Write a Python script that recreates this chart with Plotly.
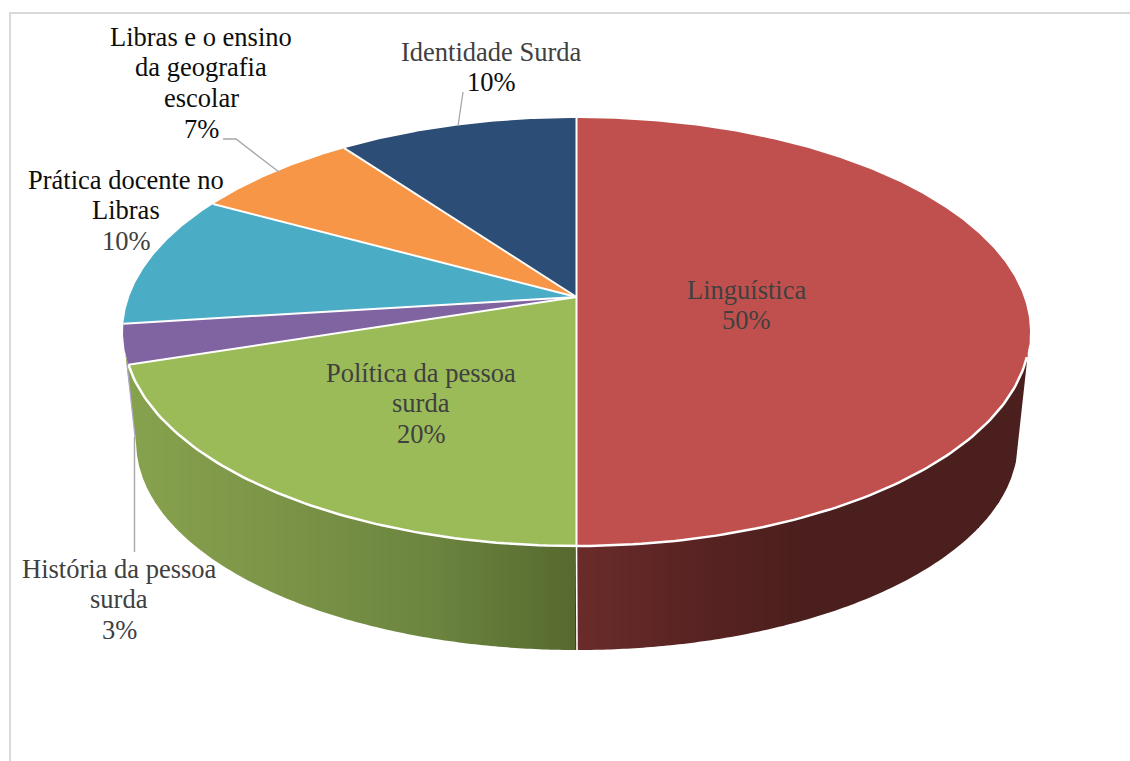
import numpy as np
import plotly.graph_objects as go

# Chart data
categories = ["Linguística", "Política da pessoa surda", "História da pessoa surda",
              "Prática docente no Libras", "Libras e o ensino da geografia escolar",
              "Identidade Surda"]
shares = [50, 20, 3, 10, 7, 10]
slice_colors = ["#C0504D", "#9BBB59", "#8064A2", "#4BACC6", "#F79646", "#2C4D75"]

# Wrapped category lines, label centre and text colours (one per line, percentage last)
label_lines = [
    ["Linguística"],
    ["Política da pessoa", "surda"],
    ["História da pessoa", "surda"],
    ["Prática docente no", "Libras"],
    ["Libras e o ensino", "da geografia", "escolar"],
    ["Identidade Surda"],
]
label_x = [746, 421, 119, 126, 201, 491]
label_top = [289.5, 372.5, 568.5, 179.5, 36.5, 51.5]
GREY_TEXT, DARK_TEXT = "#404040", "#0d0d0d"
label_colors = [
    [GREY_TEXT, GREY_TEXT],
    [GREY_TEXT, GREY_TEXT, GREY_TEXT],
    [GREY_TEXT, GREY_TEXT, GREY_TEXT],
    [DARK_TEXT, DARK_TEXT, GREY_TEXT],
    [DARK_TEXT, DARK_TEXT, DARK_TEXT, DARK_TEXT],
    [GREY_TEXT, DARK_TEXT],
]
LINE_STEP = 30.7

# Perspective disc: screen position of a rim point at angle t (clockwise from the top)
TILT = 0.1635


def rim(t, cx, cy, rx, ry):
    c, s = np.cos(t), np.sin(t)
    d = 1 + TILT * c
    return cx + rx * s / d, cy - ry * c / d


def top_rim(t):
    return rim(t, 576.5, 297.0, 447.4, 208.3)


def base_rim(t):
    return rim(t, 577.0, 407.8, 435.0, 202.6)


def blend(stops, x):
    xs = [p[0] for p in stops]
    rgb = [np.interp(x, xs, [p[1][i] for p in stops]) for i in range(3)]
    return "rgb(%d,%d,%d)" % tuple(int(round(v)) for v in rgb)


RED_WALL = [(576, (106, 44, 43)), (700, (88, 35, 34)), (800, (75, 31, 29)), (1030, (75, 31, 29))]
GREEN_WALL = [(130, (135, 162, 78)), (300, (122, 146, 70)), (430, (108, 133, 63)), (576, (86, 105, 47))]

fig = go.Figure()


def polygon(xs, ys, color):
    fig.add_trace(go.Scatter(
        x=xs, y=ys, mode="lines", fill="toself", fillcolor=color,
        line=dict(color=color, width=0), hoverinfo="skip", showlegend=False))


def polyline(xs, ys, color, width):
    fig.add_trace(go.Scatter(x=xs, y=ys, mode="lines", line=dict(color=color, width=width),
                             hoverinfo="skip", showlegend=False))


# Cumulative slice boundaries, in radians
edges = np.radians(np.cumsum([0] + shares) * 3.6)

# Outer wall: silhouette between the two rims, shaded in vertical pixel-aligned bands
wall_t = np.radians(np.linspace(100, 260, 400))
upper_x, upper_y = top_rim(wall_t)
lower_x, lower_y = base_rim(wall_t)
lower_x = np.r_[upper_x[0], lower_x, upper_x[-1]]
lower_y = np.r_[upper_y[0], lower_y, upper_y[-1]]
seam_x = top_rim(edges[1])[0]

band_edges = np.arange(int(upper_x[-1]), int(upper_x[0]) + 5, 4)
for x0, x1 in zip(band_edges[:-1], band_edges[1:]):
    xs = np.linspace(x0, min(x1, upper_x[0]), 5)
    up = np.interp(xs, upper_x[::-1], upper_y[::-1])
    low = np.interp(xs, lower_x[::-1], lower_y[::-1])
    mid = (x0 + x1) / 2
    col = blend(GREEN_WALL if mid < seam_x else RED_WALL, mid)
    polygon(np.r_[xs, xs[::-1], xs[0]], np.r_[up, low[::-1], up[0]], col)

# Wall seam at the boundary of the two front slices
sx0, sy0 = top_rim(edges[1])
sx1, sy1 = base_rim(edges[1])
polyline([sx0, sx1], [sy0, sy1], "white", 1.6)

# Top face
apex_x, apex_y = 576.5, 297.0
for i, color in enumerate(slice_colors):
    ts = np.linspace(edges[i], edges[i + 1], max(8, int(shares[i] * 8)))
    xs, ys = top_rim(ts)
    polygon(np.r_[apex_x, xs, apex_x], np.r_[apex_y, ys, apex_y], color)

# White front rim and spokes between slices
ts = np.linspace(np.radians(106), edges[2], 160)
xs, ys = top_rim(ts)
polyline(xs, ys, "white", 2.5)
for e in edges[:-1]:
    ex, ey = top_rim(e)
    polyline([apex_x, ex], [apex_y, ey], "white", 2.0)

# Leader lines
LEADER = "#a6a6a6"
polyline([223, 236, 279], [139, 139, 172], LEADER, 1.3)
polyline([463, 458], [92, 126], LEADER, 1.3)
polyline([127, 135], [364, 437], "#b3a6cf", 1.2)
polyline([134.5, 134.5], [437, 552], LEADER, 1.4)

# Chart frame, open on the right and running off the bottom
polyline([10, 10, 1130], [761, 13, 13], "#d9d9d9", 2)

annotations = []
for i, name_lines in enumerate(label_lines):
    lines = name_lines + [f"{shares[i]}%"]
    for j, text in enumerate(lines):
        annotations.append(dict(
            x=label_x[i], y=label_top[i] + j * LINE_STEP, text=text, showarrow=False,
            xanchor="center", yanchor="middle",
            font=dict(family="Liberation Serif", size=26.5, color=label_colors[i][j])))

fig.update_layout(
    width=1130, height=761, margin=dict(l=0, r=0, t=0, b=0),
    paper_bgcolor="white", plot_bgcolor="white", showlegend=False,
    xaxis=dict(range=[0, 1130], visible=False, fixedrange=True),
    yaxis=dict(range=[761, 0], visible=False, fixedrange=True),
    annotations=annotations,
)
fig.write_html("out.html", config={"displayModeBar": False})
